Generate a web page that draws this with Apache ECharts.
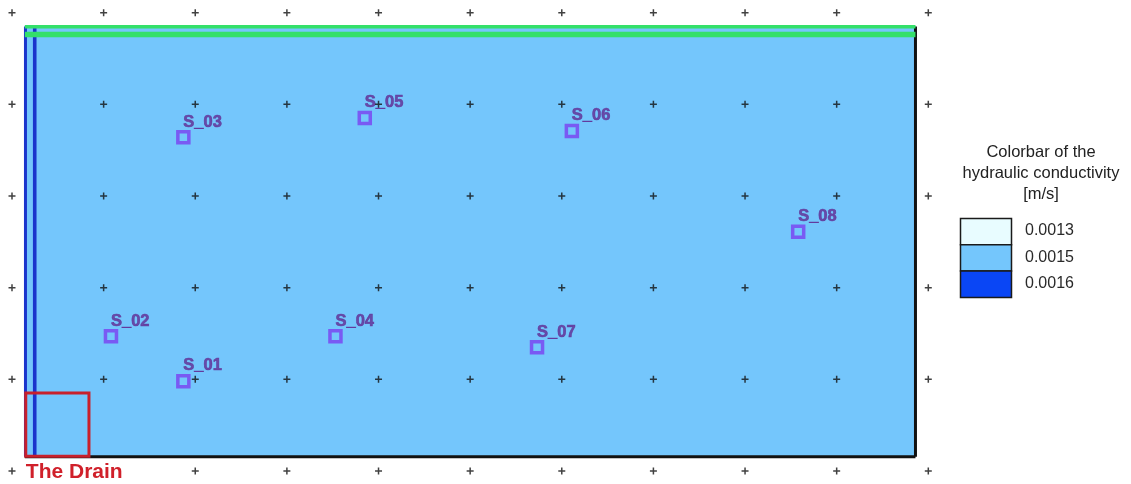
<!DOCTYPE html>
<html>
<head>
<meta charset="utf-8">
<title>Hydraulic conductivity model</title>
<script src="https://cdn.jsdelivr.net/npm/echarts@6/dist/echarts.min.js"></script>
<style>
  html, body { margin: 0; padding: 0; background: #ffffff; }
  #chart { width: 1131px; height: 484px; }
</style>
</head>
<body>
<div id="chart"></div>
<script>
// Reference lattice (model coordinates, m)
const xTicks = [0, 10, 20, 30, 40, 50, 60, 70, 80, 90, 100];
const yTicks = [0, 10, 20, 30, 40, 50];

// Model domain extent
const domainX = [1.4, 98.6];
const domainY = [1.55, 48.5];

// Boundary conditions
const topBoundaryY = [48.47, 47.62];   // fixed head (green)
const leftBoundaryX = [1.47, 2.48];    // drain side (blue)
const drainX = [1.5, 8.4];
const drainY = [1.6, 8.5];

// Observation points
const sampleNames = ['S_01', 'S_02', 'S_03', 'S_04', 'S_05', 'S_06', 'S_07', 'S_08'];
const sampleX = [18.7, 10.8, 18.7, 35.3, 38.5, 61.1, 57.3, 85.8];
const sampleY = [9.8, 14.7, 36.4, 14.7, 38.5, 37.1, 13.5, 26.1];

// Hydraulic conductivity classes
const legendValues = ['0.0013', '0.0015', '0.0016'];
const legendColors = ['#e8fcff', '#74c6fc', '#0a46f5'];
const legendTitle = ['Colorbar of the', 'hydraulic conductivity', '[m/s]'];

const domainColor = legendColors[1];

const lattice = [];
xTicks.forEach(x => yTicks.forEach(y => lattice.push([x, y])));

const samples = sampleNames.map((n, i) => ({ name: n, value: [sampleX[i], sampleY[i]] }));

function seg(data, color, width, z) {
  return {
    type: 'line', data: data, symbol: 'none', silent: true, animation: false, z: z,
    lineStyle: { color: color, width: width, cap: 'butt' }
  };
}

function boxRenderer(params, api) {
  const p0 = api.coord([api.value(0), api.value(3)]);
  const p1 = api.coord([api.value(2), api.value(1)]);
  return { x: p0[0], y: p0[1], width: p1[0] - p0[0], height: p1[1] - p0[1] };
}

const chart = echarts.init(document.getElementById('chart'), null, { renderer: 'canvas' });

const graphics = [];
legendTitle.forEach((t, i) => {
  graphics.push({
    type: 'text', x: 1041, y: 152 + i * 21, z: 10,
    style: {
      text: t, align: 'center', verticalAlign: 'middle',
      font: '16.5px "Liberation Sans", Arial, sans-serif', fill: '#222'
    }
  });
});
legendValues.forEach((v, i) => {
  graphics.push({
    type: 'rect', z: 10,
    shape: { x: 960.5, y: 218.5 + i * 26.3, width: 51, height: 26.3 },
    style: { fill: legendColors[i], stroke: '#1a1a1a', lineWidth: 1.5 }
  });
  graphics.push({
    type: 'text', x: 1025, y: 231 + i * 26.5, z: 10,
    style: {
      text: v, align: 'left', verticalAlign: 'middle',
      font: '16px "Liberation Sans", Arial, sans-serif', fill: '#2a2a2a'
    }
  });
});

chart.setOption({
  animation: false,
  backgroundColor: '#ffffff',
  grid: { left: 12, right: 202.7, top: 12.7, bottom: 13 },
  xAxis: { type: 'value', min: 0, max: 100, interval: 10, show: false },
  yAxis: { type: 'value', min: 0, max: 50, interval: 10, show: false },
  graphic: graphics,
  series: [
    {
      // model domain fill
      type: 'custom', silent: true, z: 1,
      data: [[domainX[0], domainY[0], domainX[1], domainY[1]]],
      encode: { x: [0, 2], y: [1, 3] },
      renderItem: function (params, api) {
        return { type: 'rect', shape: boxRenderer(params, api), style: { fill: domainColor } };
      }
    },
    seg([[leftBoundaryX[0], domainY[0]], [leftBoundaryX[0], domainY[1]]], '#1a35cc', 3, 2),
    seg([[leftBoundaryX[1], domainY[0]], [leftBoundaryX[1], domainY[1]]], '#1a35cc', 3.6, 2),
    seg([[domainX[1], domainY[0]], [domainX[1], domainY[1]]], '#111111', 3, 2),
    seg([[domainX[0], domainY[0]], [domainX[1], domainY[0]]], '#111111', 3, 2),
    seg([[domainX[0], topBoundaryY[0]], [domainX[1], topBoundaryY[0]]], '#33e06a', 3.4, 3),
    seg([[domainX[0], topBoundaryY[1]], [domainX[1], topBoundaryY[1]]], '#33e06a', 5.4, 3),
    {
      // drain outline
      type: 'custom', silent: true, z: 4,
      data: [[drainX[0], drainY[0], drainX[1], drainY[1]]],
      encode: { x: [0, 2], y: [1, 3] },
      renderItem: function (params, api) {
        return {
          type: 'rect', shape: boxRenderer(params, api),
          style: { fill: 'none', stroke: '#c8202b', lineWidth: 3 }
        };
      }
    },
    {
      // observation points
      type: 'scatter', z: 5, silent: true,
      data: samples,
      symbol: 'rect', symbolSize: 11,
      itemStyle: { color: 'rgba(0,0,0,0)', borderColor: '#7a3ff0', borderWidth: 3.5 },
      label: {
        show: true, position: 'top', align: 'left', distance: 1, offset: [0, 1.5],
        formatter: '{b}', color: '#622c94',
        textBorderColor: '#622c94', textBorderWidth: 0.6,
        fontFamily: 'Liberation Sans', fontWeight: 'bold', fontSize: 16.5
      }
    },
    {
      // reference lattice markers
      type: 'scatter', z: 6, silent: true,
      data: lattice,
      symbol: 'path://M2.75,0h1.5v7h-1.5zM0,2.75h7v1.5h-7z',
      symbolSize: 7,
      itemStyle: { color: '#111111' }
    },
    {
      // drain caption, drawn over the lattice
      type: 'custom', silent: true, z: 7,
      data: [[domainX[0], 0]],
      encode: { x: 0, y: 1 },
      renderItem: function (params, api) {
        const t = api.coord([api.value(0), api.value(1)]);
        return {
          type: 'text',
          style: {
            text: 'The Drain', x: t[0], y: t[1] + 1, align: 'left', verticalAlign: 'middle',
            font: 'bold 21px "Liberation Sans", Arial, sans-serif', fill: '#d0202a',
            backgroundColor: '#ffffff', padding: [2, 4, 2, 1]
          }
        };
      }
    }
  ]
});
</script>
</body>
</html>
